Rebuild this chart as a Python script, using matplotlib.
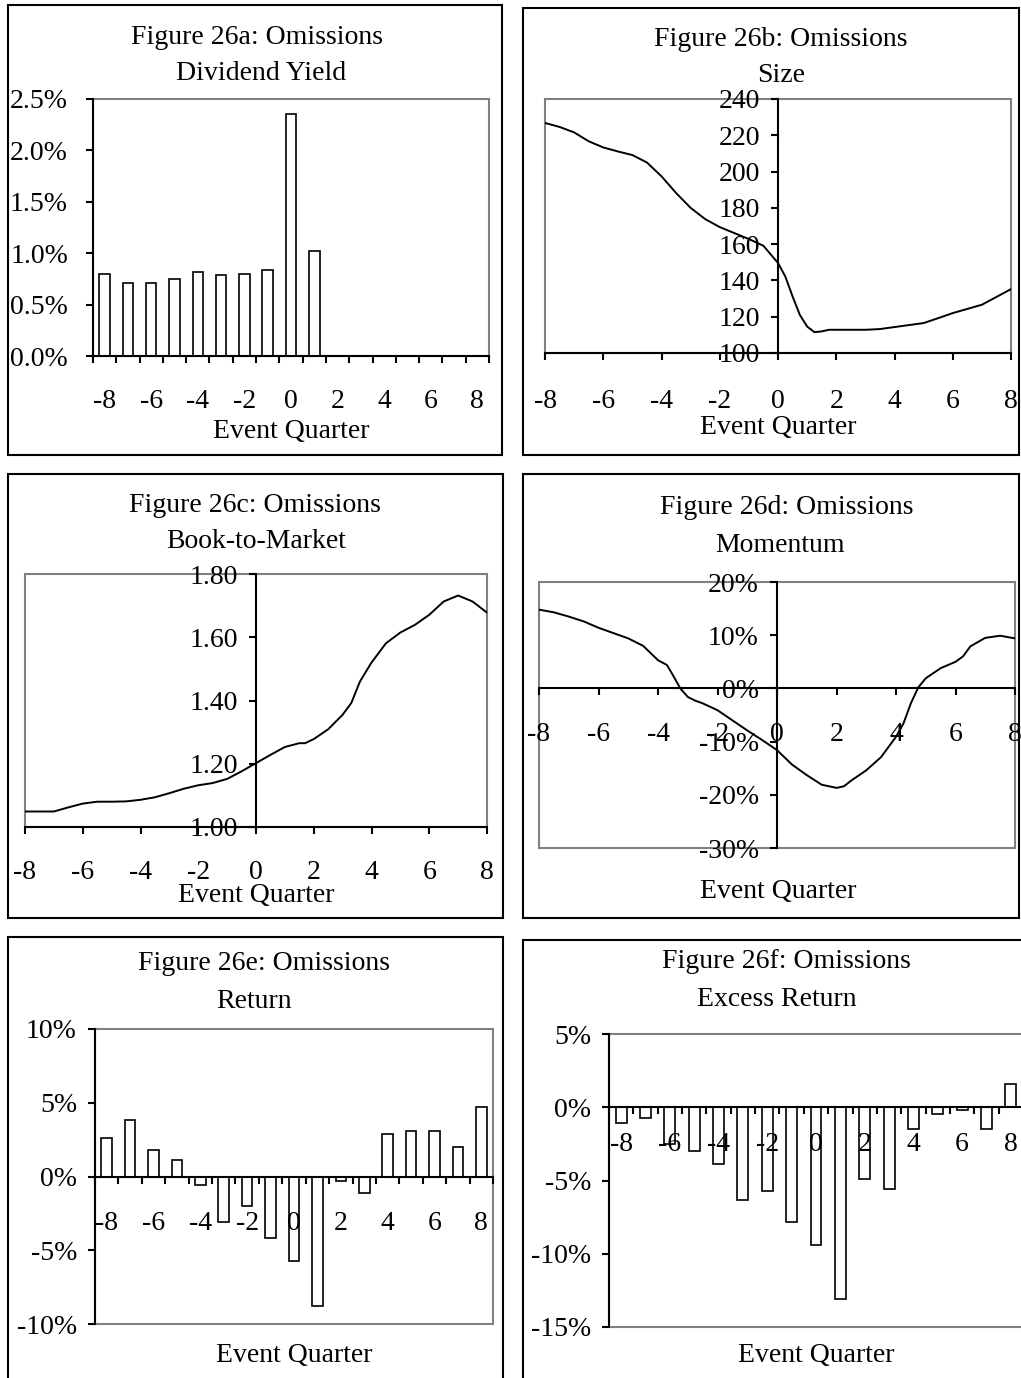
import numpy as np
import matplotlib
matplotlib.use("Agg")
import matplotlib.pyplot as plt
from matplotlib.patches import Rectangle
from matplotlib.ticker import FuncFormatter

plt.rcParams['font.family'] = ['Liberation Serif', 'DejaVu Serif']
plt.rcParams['font.size'] = 20
plt.rcParams['axes.unicode_minus'] = False

W, H = 1021, 1378

# ---- data ----
quarters = np.arange(-8, 9)
even_quarters = np.arange(-8, 9, 2)

# 26a: dividend yield (%), quarters -8..1 only
div_quarters = np.arange(-8, 2)
div_yield = [0.80, 0.71, 0.71, 0.75, 0.82, 0.79, 0.80, 0.84, 2.35, 1.02]

# 26b: size
size_q = [-8, -7.5, -7, -6.5, -6, -5.5, -5, -4.5, -4, -3.5, -3, -2.5, -2, -1.5,
          -1, -0.5, 0, 0.25, 0.5, 0.75, 1, 1.25, 1.5, 1.75, 2, 3, 3.5, 4, 5,
          5.5, 6, 7, 8]
size_vals = [226.8, 224.6, 221.6, 216.7, 213.3, 211.1, 209.1, 205.0, 197.4,
             188.2, 180.0, 173.8, 169.4, 166.1, 162.8, 159.1, 149.6, 142.2,
             131.2, 121.0, 114.6, 111.5, 111.9, 112.8, 112.8, 112.8, 113.2,
             114.3, 116.5, 119.2, 122.0, 126.6, 135.2]

# 26c: book-to-market
btm_q = [-8, -7, -6.5, -6, -5.5, -5, -4.5, -4, -3.5, -3, -2.5, -2, -1.5, -1,
         -0.5, 0, 0.5, 1, 1.5, 1.7, 2, 2.5, 3, 3.3, 3.6, 4, 4.5, 5, 5.5, 6,
         6.5, 7, 7.5, 8]
btm_vals = [1.049, 1.049, 1.062, 1.074, 1.080, 1.080, 1.081, 1.086, 1.094,
            1.107, 1.121, 1.132, 1.139, 1.152, 1.176, 1.202, 1.228, 1.253,
            1.265, 1.265, 1.278, 1.309, 1.355, 1.392, 1.460, 1.520, 1.581,
            1.615, 1.639, 1.671, 1.713, 1.732, 1.713, 1.678]

# 26d: momentum (%)
mom_q = [-8, -7.5, -7, -6.5, -6, -5.5, -5, -4.5, -4, -3.7, -3.5, -3.25, -3,
         -2.75, -2.5, -2, -1.5, -1, -0.5, 0, 0.5, 1, 1.5, 2, 2.25, 2.5, 3,
         3.5, 4, 4.25, 4.5, 4.75, 5, 5.5, 6, 6.25, 6.5, 7, 7.5, 8]
mom_vals = [14.8, 14.3, 13.5, 12.6, 11.4, 10.4, 9.4, 8.0, 5.3, 4.4, 2.5, 0.0,
            -1.6, -2.3, -2.8, -4.1, -6.0, -7.9, -9.7, -11.6, -14.3, -16.3,
            -18.1, -18.7, -18.4, -17.3, -15.4, -12.9, -9.1, -6.6, -2.8, 0.2,
            1.9, 3.8, 5.0, 6.0, 7.9, 9.5, 9.9, 9.4]

# 26e: return (%), 26f: excess return (%)
ret_vals = [2.6, 3.8, 1.8, 1.1, -0.56, -3.1, -2.0, -4.2, -5.7, -8.8, -0.3,
            -1.1, 2.9, 3.1, 3.1, 2.0, 4.7]
exret_vals = [-1.1, -0.7, -2.5, -3.0, -3.9, -6.3, -5.75, -7.8, -9.4, -13.1,
              -4.9, -5.6, -1.5, -0.43, -0.2, -1.5, 1.6]

fig = plt.figure(figsize=(W / 100, H / 100), dpi=100)


def px_box(l, t, r, b):
    return [l / W, 1 - b / H, (r - l) / W, (b - t) / H]


def frame(l, t, r, b):
    fig.patches.append(Rectangle((l / W, 1 - b / H), (r - l) / W, (b - t) / H,
                                 transform=fig.transFigure, fill=False,
                                 ec='black', lw=1.5))


def ftext(x, y, s):
    fig.text(x / W, 1 - y / H, s, ha='center', va='center', fontsize=20)


def base_axes(box, xpad, ypad):
    ax = fig.add_axes(px_box(*box))
    for s in ax.spines.values():
        s.set_visible(False)
    ax.add_patch(Rectangle((0, 0), 1, 1, transform=ax.transAxes, fill=False,
                           ec='#808080', lw=1.5, clip_on=False, zorder=0.5))
    for k in ('left', 'bottom'):
        ax.spines[k].set_visible(True)
        ax.spines[k].set_color('black')
        ax.spines[k].set_linewidth(1.5)
        ax.spines[k].set_zorder(3)
    ax.tick_params(axis='y', direction='out', length=5, width=1.5, pad=ypad,
                   labelsize=20)
    ax.tick_params(axis='x', direction='out', length=5, width=1.5, pad=xpad,
                   labelsize=20)
    ax.set_facecolor('none')
    ax.set_axisbelow(False)
    return ax


def bar_axes(box, vals, cats, ylim, yticks, fmt, xpad, ypad):
    ax = base_axes(box, xpad, ypad)
    ax.bar(cats, vals, width=0.45, color='white', edgecolor='black',
           linewidth=1.2, zorder=2)
    ax.set_xlim(-8.5, 8.5)
    ax.set_ylim(*ylim)
    ax.set_yticks(yticks)
    ax.yaxis.set_major_formatter(FuncFormatter(fmt))
    ax.set_xticks(even_quarters)
    ax.set_xticks(np.arange(-8.5, 9.0, 1.0), minor=True)
    ax.tick_params(axis='x', which='major', length=0, pad=xpad + 5)
    ax.tick_params(axis='x', which='minor', direction='out', length=5,
                   width=1.5)
    return ax


def line_axes(box, xs, ys, ylim, yticks, fmt, xpad, ypad, xaxis_at=None):
    ax = base_axes(box, xpad, ypad)
    ax.plot(xs, ys, color='black', lw=1.4, zorder=2)
    ax.set_xlim(-8, 8)
    ax.set_ylim(*ylim)
    ax.set_yticks(yticks)
    ax.yaxis.set_major_formatter(FuncFormatter(fmt))
    ax.set_xticks(even_quarters)
    ax.spines['left'].set_position(('data', 0))
    if xaxis_at is not None:
        ax.spines['bottom'].set_position(('data', xaxis_at))
    return ax


# ---- panel a ----
frame(8, 5, 502, 455)
bar_axes((93, 99, 489, 356), div_yield, div_quarters, (0, 2.5),
         np.arange(0, 2.51, 0.5), lambda v, p: f"{v:.1f}%", 19, 13)
ftext(257, 37, "Figure 26a: Omissions")
ftext(261, 73, "Dividend Yield")
ftext(291, 432, "Event Quarter")

# ---- panel b ----
frame(523, 8, 1019, 455)
line_axes((545, 99, 1011, 353), size_q, size_vals, (100, 240),
          np.arange(100, 241, 20), lambda v, p: f"{v:.0f}", 21, 8)
ftext(781, 40, "Figure 26b: Omissions")
ftext(781, 76, "Size")
ftext(778, 428, "Event Quarter")

# ---- panel c ----
frame(8, 474, 503, 918)
line_axes((25, 574, 487, 827), btm_q, btm_vals, (1.0, 1.8),
          np.arange(1.0, 1.81, 0.2), lambda v, p: f"{v:.2f}", 19, 8)
ftext(255, 505, "Figure 26c: Omissions")
ftext(256, 542, "Book-to-Market")
ftext(256, 895, "Event Quarter")

# ---- panel d ----
frame(523, 474, 1019, 918)
line_axes((539, 582, 1015, 848), mom_q, mom_vals, (-30, 20),
          np.arange(-30, 21, 10), lambda v, p: f"{v:.0f}%", 19, 8, xaxis_at=0)
ftext(787, 507, "Figure 26d: Omissions")
ftext(780, 545, "Momentum")
ftext(778, 892, "Event Quarter")

# ---- panel e ----
frame(8, 937, 503, 1400)
ax_e = bar_axes((95, 1029, 493, 1324), ret_vals, quarters, (-10, 10),
                np.arange(-10, 11, 5), lambda v, p: f"{v:.0f}%", 20, 8)
ax_e.spines['bottom'].set_position(('data', 0))
ftext(264, 963, "Figure 26e: Omissions")
ftext(254, 1002, "Return")
ftext(294, 1355, "Event Quarter")

# ---- panel f ----
frame(523, 940, 1050, 1400)
ax_f = bar_axes((609, 1034, 1023, 1327), exret_vals, quarters, (-15, 5),
                np.arange(-15, 6, 5), lambda v, p: f"{v:.0f}%", 13, 8)
ax_f.spines['bottom'].set_position(('data', 0))
ftext(786, 962, "Figure 26f: Omissions")
ftext(777, 999, "Excess Return")
ftext(816, 1355, "Event Quarter")

fig.savefig("out.png", dpi=100)
